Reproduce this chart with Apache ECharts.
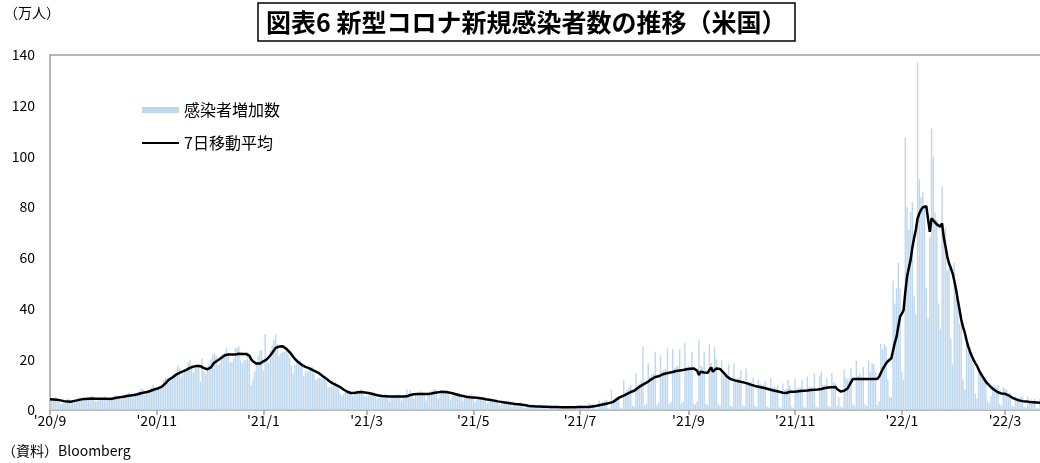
<!DOCTYPE html>
<html>
<head>
<meta charset="utf-8">
<script src="https://cdn.jsdelivr.net/npm/echarts@6/dist/echarts.min.js"></script>
<style>
  html, body { margin: 0; padding: 0; background: #fff; }
  #chart { width: 1040px; height: 463px; }
</style>
</head>
<body>
<div id="chart"></div>
<script>
// Daily new cases in the US (unit: 10,000 people), one array per month
const cases_2020_09 = [4.2,4.4,4.6,5.0,4.2,3.2,2.4,2.6,3.4,3.6, 4.5,4.1,3.4,3.4,3.9,3.9,4.4,4.9,4.2,3.6, 3.7,4.0,4.0,4.6,5.5,4.6,3.5,3.6,4.2,4.0];
const cases_2020_10 = [4.8,5.3,4.9,3.5,3.6,4.3,5.0,5.6,5.7,5.0, 4.3,4.2,5.1,5.6,6.4,6.9,5.5,4.8,5.9,6.0, 6.1,7.4,8.2,8.3,6.0,6.6,7.4,7.8,8.9,9.9, 8.5];
const cases_2020_11 = [7.6,8.5,9.3,10.3,12.0,12.7,12.5,10.7,11.8,13.2, 14.2,15.5,17.4,16.5,13.1,14.4,15.5,16.8,18.7,19.8, 17.8,14.5,17.6,17.8,18.3,11.2,20.2,15.2,14.1,16.0];
const cases_2020_12 = [18.1,20.0,21.7,22.5,21.4,17.7,18.2,21.5,22.2,22.6, 24.5,22.0,18.7,19.0,20.4,24.5,24.5,25.0,19.5,18.3, 19.6,19.7,23.0,19.8,9.8,12.0,15.2,18.5,21.2,23.5, 23.5];
const cases_2021_01 = [15.5,30.0,20.5,18.5,23.5,25.5,27.5,29.8,26.0,21.5, 22.5,23.0,23.0,23.5,24.2,20.5,17.5,14.5,17.8,18.6, 19.8,19.5,17.2,13.5,15.0,15.3,15.8,16.8,17.0,14.3, 11.8];
const cases_2021_02 = [12.5,12.8,12.5,12.3,13.5,11.0,8.8,8.9,9.5,9.5, 10.5,10.2,8.5,6.4,5.5,6.5,7.0,7.2,7.8,6.7, 5.5,5.6,7.2,7.5,7.7,8.0,6.4,5.2];
const cases_2021_03 = [5.5,5.8,6.7,6.6,6.8,5.9,4.2,4.5,5.5,5.8, 6.2,6.1,5.2,3.6,4.8,5.2,5.6,6.0,6.2,5.0, 3.7,4.8,5.3,8.2,6.4,7.8,6.2,4.3,6.4,6.0, 6.8];
const cases_2021_04 = [7.4,7.0,6.2,3.7,6.0,6.3,7.5,7.8,8.3,6.8, 4.5,6.5,7.2,7.6,7.7,8.0,6.2,4.0,5.6,6.2, 6.6,6.9,6.8,5.3,3.6,4.7,5.5,5.6,6.0,6.4];
const cases_2021_05 = [4.8,3.0,3.9,4.4,5.0,5.1,5.2,4.0,2.6,3.3, 3.8,4.2,4.1,4.4,3.2,2.0,2.7,3.0,3.4,3.4, 3.6,2.4,1.5,2.2,2.5,2.8,2.8,3.0,1.6,1.0, 0.8];
const cases_2021_06 = [1.6,2.1,1.9,2.1,1.0,0.6,1.4,1.6,1.7,1.8, 1.8,0.8,0.5,1.2,1.2,1.6,1.5,1.6,0.5,0.4, 1.2,1.4,1.4,1.5,1.6,0.5,0.3,1.4,1.3,1.7];
const cases_2021_07 = [1.7,1.9,0.5,0.2,0.3,2.8,2.2,2.3,2.5,0.5, 0.3,3.6,2.8,3.2,3.5,4.0,0.8,0.5,7.8,3.8, 4.5,5.0,5.6,1.0,0.6,11.8,7.0,8.0,9.0,10.0, 1.8];
const cases_2021_08 = [1.2,14.5,9.8,10.5,11.5,25.0,1.8, 2.5,18.4,13.2,14.0,14.5,23.0,2.0, 3.0,21.5,15.5,16.0,16.3,24.3,2.3, 3.2,24.0,16.5,17.0,17.5,24.0,2.5, 3.2,26.5,17.0];
const cases_2021_09 = [17.5,17.0,23.0,2.5,2.0,3.5,27.6,17.5,17.0,23.0, 2.4,2.0,25.9,18.5,17.0,24.7,20.0,2.5,1.8,19.7, 14.0,15.0,14.5,18.1,1.8,1.5,18.4,12.0,12.5,12.8];
const cases_2021_10 = [15.8,1.8,1.4,16.4,11.0,10.8,11.0,12.7,1.6,1.2, 11.8,10.5,9.8,10.0,11.2,1.4,1.0,12.5,8.8,9.2, 8.8,10.0,1.3,0.9,10.5,7.8,8.4,11.8,9.5,1.2, 0.9];
const cases_2021_11 = [12.1,8.5,8.8,8.8,11.8,1.2,0.9,13.2,9.0,9.2, 7.5,14.5,1.3,1.0,13.5,15.1,9.8,10.0,12.5,1.5, 1.2,14.5,11.0,10.5,1.6,5.0,1.3,1.0,16.0,12.8];
const cases_2021_12 = [12.0,12.5,16.5,2.2,1.6,19.5,13.5,14.5,13.0,17.0, 2.3,1.7,19.5,15.0,18.5,18.0,15.0,2.0,3.5,26.0, 24.0,26.0,25.0,12.0,5.0,5.0,51.0,42.0,48.0,58.0, 48.0];
const cases_2022_01 = [15.0,12.0,107.5,80.0,71.0,78.0,82.0,45.0,38.0,137.0, 91.0,84.0,86.0,80.0,48.0,36.0,68.0,111.0,100.0,78.0, 75.0,42.0,32.0,88.0,70.0,72.0,55.0,56.0,28.0,18.0, 58.0];
const cases_2022_02 = [45.0,42.0,34.0,37.5,12.0,8.0,28.0,26.0,25.0,20.0, 18.0,6.5,4.5,17.0,14.5,13.5,12.0,13.0,3.5,2.5, 5.5,9.2,9.9,9.0,9.9,2.5,1.8,9.0];
const cases_2022_03 = [8.5,8.0,6.5,6.8,1.8,1.2,5.5,4.5,4.8,5.0, 5.2,1.2,0.8,5.3,3.6,4.2,3.8,4.3,0.9,0.6, 4.5];

// 7-day moving average (unit: 10,000 people), one array per month
const avg_2020_09 = [4.2,4.2,4.1,4.1,4.0,3.9,3.8,3.6,3.5,3.4, 3.4,3.3,3.3,3.4,3.6,3.8,3.9,4.1,4.2,4.3, 4.3,4.4,4.4,4.5,4.5,4.5,4.4,4.4,4.4,4.4];
const avg_2020_10 = [4.4,4.4,4.4,4.3,4.3,4.4,4.5,4.6,4.8,4.9, 5.0,5.1,5.2,5.3,5.5,5.6,5.7,5.8,5.9,6.0, 6.2,6.4,6.6,6.8,6.9,7.0,7.2,7.4,7.7,7.9, 8.2];
const avg_2020_11 = [8.3,8.6,8.8,9.2,9.8,10.5,11.2,12.0,12.4,12.8, 13.4,13.9,14.2,14.6,14.9,15.2,15.4,15.8,16.2,16.6, 16.9,17.1,17.3,17.4,17.6,17.3,16.9,16.5,16.2,16.1];
const avg_2020_12 = [16.3,16.8,17.8,18.7,19.3,19.6,20.0,20.6,21.3,21.6, 21.8,21.9,22.0,21.9,21.8,21.9,22.1,22.2,22.2,22.1, 22.0,22.1,22.0,21.4,20.0,19.2,18.7,18.3,18.1,18.3, 18.8];
const avg_2021_01 = [19.2,19.5,20.0,20.8,21.6,22.5,23.5,24.5,24.8,25.0, 25.2,25.1,24.8,24.2,23.5,22.8,22.0,21.0,20.2,19.5, 18.8,18.2,17.8,17.4,17.0,16.8,16.5,16.1,15.8,15.4, 15.1];
const avg_2021_02 = [14.8,14.4,13.9,13.3,12.8,12.3,11.8,11.2,10.8,10.4, 10.0,9.7,9.3,9.0,8.5,8.0,7.6,7.2,6.9,6.7, 6.6,6.7,6.9,7.0,7.1,7.1,7.0,6.9];
const avg_2021_03 = [6.8,6.7,6.6,6.4,6.2,6.0,5.8,5.7,5.6,5.5, 5.5,5.4,5.4,5.3,5.3,5.3,5.3,5.3,5.3,5.3, 5.3,5.3,5.3,5.4,5.6,5.9,6.1,6.2,6.3,6.3, 6.3];
const avg_2021_04 = [6.3,6.3,6.3,6.2,6.3,6.4,6.5,6.6,6.8,6.9, 7.0,7.1,7.2,7.2,7.1,7.0,6.9,6.8,6.6,6.4, 6.2,6.0,5.8,5.6,5.5,5.4,5.2,5.1,5.0,4.9];
const avg_2021_05 = [4.9,4.8,4.8,4.7,4.6,4.5,4.4,4.3,4.1,4.0, 3.9,3.8,3.7,3.6,3.4,3.3,3.2,3.1,3.0,2.9, 2.8,2.7,2.6,2.5,2.4,2.3,2.3,2.2,2.1,2.0, 1.9];
const avg_2021_06 = [1.7,1.6,1.5,1.5,1.4,1.4,1.4,1.4,1.3,1.3, 1.3,1.3,1.2,1.2,1.2,1.2,1.2,1.2,1.1,1.1, 1.1,1.1,1.1,1.1,1.1,1.1,1.1,1.1,1.2,1.2];
const avg_2021_07 = [1.2,1.2,1.2,1.2,1.1,1.2,1.3,1.4,1.5,1.6, 1.7,1.9,2.0,2.2,2.3,2.5,2.7,2.8,3.0,3.2, 3.6,4.2,4.7,5.1,5.4,5.7,6.1,6.4,6.8,7.1, 7.5];
const avg_2021_08 = [7.6,8.2,8.7,9.2,9.6,10.0,10.4,10.7,11.2,11.7, 12.2,12.6,13.0,13.1,13.3,13.7,14.0,14.2,14.4,14.5, 14.7,14.8,15.0,15.2,15.4,15.5,15.6,15.7,15.8,16.0, 16.1];
const avg_2021_09 = [16.2,16.3,16.4,16.4,16.4,15.5,13.8,15.1,15.0,14.8, 14.7,14.7,15.2,16.8,15.1,15.3,16.4,16.3,16.2,15.8, 14.8,14.0,13.2,12.5,12.2,12.0,11.8,11.6,11.4,11.2];
const avg_2021_10 = [11.1,11.0,10.8,10.6,10.4,10.1,9.9,9.7,9.5,9.4, 9.2,9.0,8.9,8.7,8.6,8.4,8.2,8.0,7.8,7.6, 7.5,7.3,7.2,7.0,6.8,6.6,6.7,7.0,7.2,7.2, 7.2];
const avg_2021_11 = [7.2,7.3,7.4,7.5,7.5,7.6,7.6,7.7,7.8,7.9, 7.9,8.0,8.1,8.1,8.2,8.3,8.5,8.7,8.8,8.9, 9.0,9.0,9.0,9.1,8.3,7.6,7.3,7.2,7.6,8.2];
const avg_2021_12 = [8.5,8.8,11.0,12.2,12.2,12.2,12.2,12.2,12.2,12.2, 12.2,12.2,12.2,12.2,12.2,12.2,12.2,12.3,13.1,14.6, 16.0,17.2,18.4,19.2,19.8,20.4,23.5,26.5,28.9,33.0, 36.8];
const avg_2022_01 = [38.0,39.4,46.5,52.6,56.0,59.1,64.0,67.7,71.0,75.5, 77.5,79.0,79.9,80.4,80.4,80.0,70.3,75.6,75.0,74.0, 73.2,72.6,72.3,73.6,68.0,64.4,60.5,57.8,56.0,54.0, 51.0];
const avg_2022_02 = [47.5,43.4,39.5,35.5,32.8,30.5,27.5,25.0,23.0,21.3, 19.8,18.5,17.4,15.8,14.5,13.4,12.3,11.2,10.4,9.8, 9.0,8.4,7.9,7.4,7.0,6.7,6.5,6.4];
const avg_2022_03 = [6.4,6.3,5.8,5.3,4.9,4.6,4.3,4.0,3.8,3.6, 3.5,3.4,3.4,3.3,3.2,3.2,3.1,3.1,3.0,3.0, 2.9];

// Months covered, in order
const monthKeys = ['2020-09','2020-10','2020-11','2020-12','2021-01','2021-02','2021-03','2021-04','2021-05','2021-06',
                   '2021-07','2021-08','2021-09','2021-10','2021-11','2021-12','2022-01','2022-02','2022-03'];
const monthCases = [cases_2020_09,cases_2020_10,cases_2020_11,cases_2020_12,cases_2021_01,cases_2021_02,cases_2021_03,
                    cases_2021_04,cases_2021_05,cases_2021_06,cases_2021_07,cases_2021_08,cases_2021_09,cases_2021_10,
                    cases_2021_11,cases_2021_12,cases_2022_01,cases_2022_02,cases_2022_03];
const monthAvg = [avg_2020_09,avg_2020_10,avg_2020_11,avg_2020_12,avg_2021_01,avg_2021_02,avg_2021_03,
                  avg_2021_04,avg_2021_05,avg_2021_06,avg_2021_07,avg_2021_08,avg_2021_09,avg_2021_10,
                  avg_2021_11,avg_2021_12,avg_2022_01,avg_2022_02,avg_2022_03];

// Labelled tick positions on the date axis
const tickDates = ['2020-09-01','2020-11-01','2021-01-01','2021-03-01','2021-05-01','2021-07-01','2021-09-01','2021-11-01','2022-01-01','2022-03-01'];
const tickLabels = ["'20/9","'20/11","'21/1","'21/3","'21/5","'21/7","'21/9","'21/11","'22/1","'22/3"];

// Flatten the monthly arrays into day-by-day series
const dates = [], dailyCases = [], movingAvg = [];
monthKeys.forEach((key, m) => {
  monthCases[m].forEach((v, d) => {
    dates.push(key + '-' + String(d + 1).padStart(2, '0'));
    dailyCases.push(v);
    movingAvg.push(monthAvg[m][d]);
  });
});

const FONT = "'Noto Sans CJK JP', 'Noto Sans', sans-serif";
const AXIS_GREY = '#a0a0a0';
const isTick = (idx, val) => tickDates.indexOf(val) >= 0;

const chart = echarts.init(document.getElementById('chart'), null, { renderer: 'canvas' });
chart.setOption({
  animation: false,
  backgroundColor: '#fff',
  textStyle: { fontFamily: FONT, color: '#000' },
  title: {
    text: '図表6 新型コロナ新規感染者数の推移（米国）',
    left: 258, top: 3,
    padding: [6, 9, 5, 8],
    borderColor: '#000', borderWidth: 1.5,
    textStyle: { fontFamily: FONT, fontSize: 25, fontWeight: 'bold', color: '#000', lineHeight: 27 }
  },
  graphic: [
    { type: 'text', left: 4, top: 6, style: { text: '（万人）', fontFamily: FONT, fontSize: 14, fill: '#000' } },
    { type: 'text', left: 2, top: 444, style: { text: '（資料）Bloomberg', fontFamily: FONT, fontSize: 14, fill: '#000' } }
  ],
  legend: {
    orient: 'vertical',
    left: 141, top: 102,
    padding: 0,
    itemWidth: 37, itemHeight: 6, itemGap: 17,
    textStyle: { fontFamily: FONT, fontSize: 16, color: '#000', lineHeight: 16 },
    data: [
      { name: '感染者増加数', icon: 'rect' },
      { name: '7日移動平均', itemStyle: { opacity: 0 } }
    ]
  },
  grid: { left: 50, right: 0, top: 55, bottom: 53, containLabel: false },
  xAxis: [
    {
      type: 'category',
      data: dates,
      boundaryGap: false,
      axisLine: { lineStyle: { color: AXIS_GREY, width: 1.5 } },
      axisTick: { show: true, interval: isTick, length: 5, lineStyle: { color: AXIS_GREY, width: 1.5 } },
      axisLabel: {
        interval: isTick,
        formatter: (v) => tickLabels[tickDates.indexOf(v)] || '',
        fontFamily: FONT, fontSize: 14, color: '#000', margin: 4
      },
      splitLine: { show: false }
    },
    {
      type: 'category',
      data: dates,
      position: 'top',
      boundaryGap: false,
      axisLine: { lineStyle: { color: AXIS_GREY, width: 1.5 } },
      axisTick: { show: false },
      axisLabel: { show: false },
      splitLine: { show: false }
    }
  ],
  yAxis: {
    type: 'value',
    min: 0, max: 140, interval: 20,
    axisLine: { show: true, lineStyle: { color: AXIS_GREY, width: 1.5 } },
    axisTick: { show: false },
    splitLine: { show: false },
    axisLabel: { fontFamily: FONT, fontSize: 14, color: '#000', margin: 15 }
  },
  series: [
    {
      name: '感染者増加数',
      type: 'bar',
      data: dailyCases,
      barWidth: 1.4,
      itemStyle: { color: '#bdd7ee' },
      z: 2
    },
    {
      name: '7日移動平均',
      type: 'line',
      data: movingAvg,
      symbol: 'none',
      showSymbol: false,
      lineStyle: { color: '#000', width: 2.5 },
      itemStyle: { color: '#000' },
      z: 3
    }
  ]
});
</script>
</body>
</html>
